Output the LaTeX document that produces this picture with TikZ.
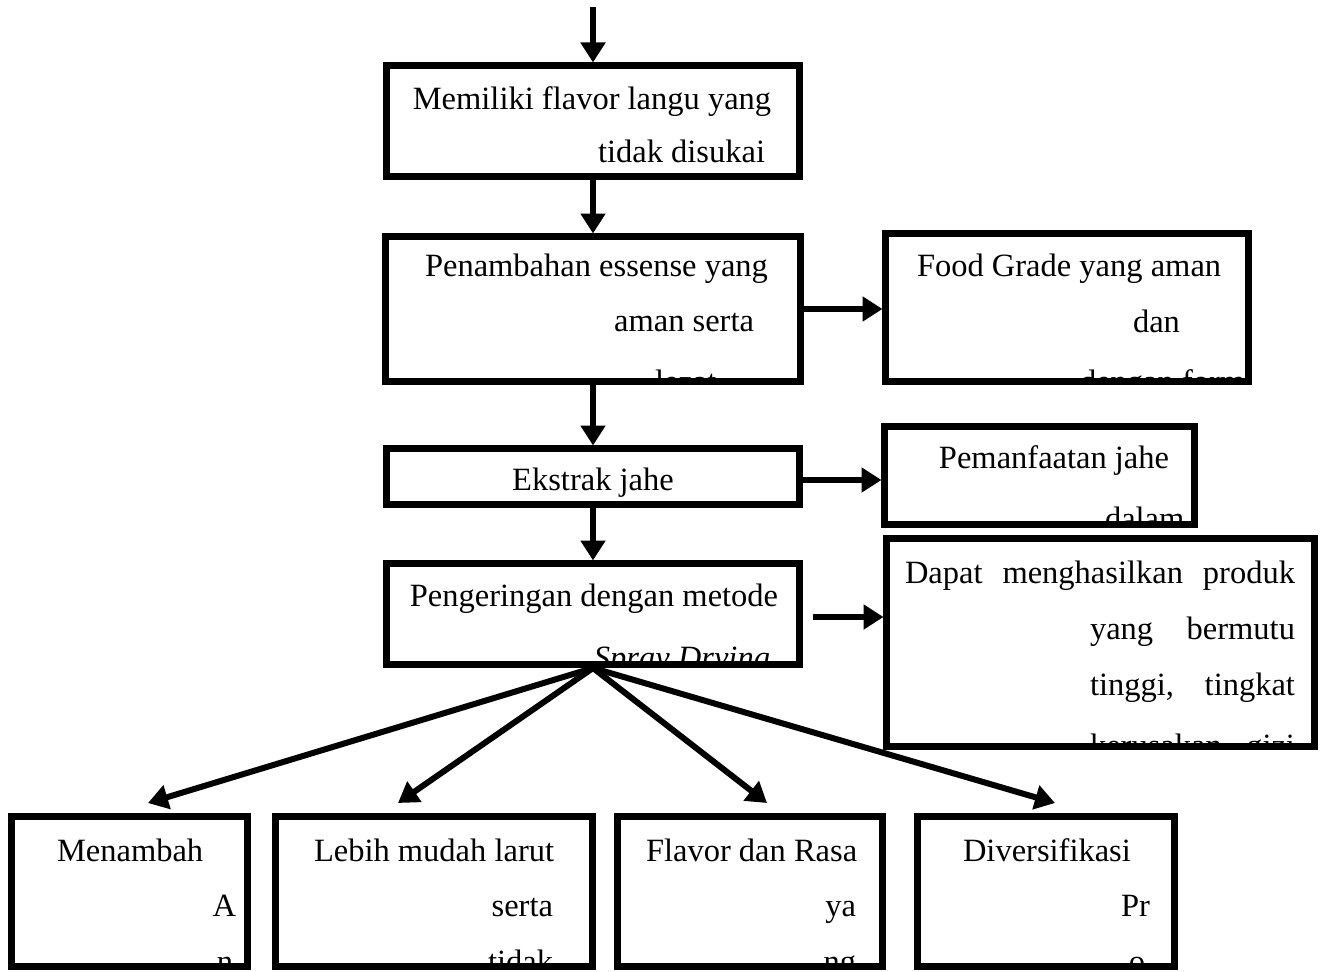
\documentclass[tikz,border=0pt]{standalone}
\usepackage{fontspec}
\setmainfont{Liberation Serif}
\usetikzlibrary{arrows.meta}
\tikzset{
  box/.style={draw=black, line width=7pt, inner sep=0pt, outer sep=0pt, rectangle},
  txt/.style={inner sep=0pt, outer sep=0pt, font=\fontsize{32.5}{39}\selectfont},
  arr/.style={line width=6pt, -{Triangle[length=20pt,width=24pt]}},
}
\newcommand{\clipbox}[1]{\clip ([shift={(3.5pt,-3.5pt)}]#1.north west) rectangle ([shift={(-3.5pt,3.5pt)}]#1.south east);}
\begin{document}
\begin{tikzpicture}[x=1pt,y=-1pt]
\useasboundingbox (0,0) rectangle (1329,971);
% boxes
\node[box, minimum width=413pt, minimum height=111pt] (b1) at (593,121) {};
\node[box, minimum width=415pt, minimum height=145pt] (b2) at (593,309) {};
\node[box, minimum width=363pt, minimum height=148pt] (food) at (1067,307.5) {};
\node[box, minimum width=413pt, minimum height=56pt] (b3) at (593,476.5) {};
\node[box, minimum width=310pt, minimum height=98pt] (pem) at (1039.5,475.5) {};
\node[box, minimum width=413pt, minimum height=101pt] (b4) at (593,614) {};
\node[box, minimum width=428pt, minimum height=208pt] (dapat) at (1100.5,642.5) {};
\node[box, minimum width=236pt, minimum height=150pt] (bA) at (129.5,891.5) {};
\node[box, minimum width=317pt, minimum height=150pt] (bB) at (434,891.5) {};
\node[box, minimum width=265pt, minimum height=150pt] (bC) at (750,891.5) {};
\node[box, minimum width=257pt, minimum height=150pt] (bD) at (1046,891.5) {};
% texts
\begin{scope}\clipbox{b1}
\node[txt, anchor=base] (t1a) at (592,110) {Memiliki flavor langu yang};
\node[txt, anchor=base east] (t1b) at (765,162) {tidak disukai};
\end{scope}
\begin{scope}\clipbox{b2}
\node[txt, anchor=base west] (t2a) at (425,276) {Penambahan essense yang};
\node[txt, anchor=base east] (t2b) at (754,331) {aman serta};
\node[txt, anchor=base west] (t2c) at (655,392) {lezat};
\end{scope}
\begin{scope}\clipbox{food}
\node[txt, anchor=base west] (f1) at (917,276) {Food Grade yang aman};
\node[txt, anchor=base west] (f2) at (1133,332) {dan};
\node[txt, anchor=base west] (f3) at (1080,392) {dengan formula};
\end{scope}
\begin{scope}\clipbox{b3}
\node[txt, anchor=base] (t3) at (593,490) {Ekstrak jahe};
\end{scope}
\begin{scope}\clipbox{pem}
\node[txt, anchor=base] (p1) at (1054,468) {Pemanfaatan jahe};
\node[txt, anchor=base west] (p2) at (1105,529) {dalam};
\end{scope}
\begin{scope}\clipbox{b4}
\node[txt, anchor=base] (t4a) at (594,606) {Pengeringan dengan metode};
\node[txt, anchor=base east] (t4b) at (770,668) {\itshape Spray Drying};
\end{scope}
\begin{scope}\clipbox{dapat}
\node[txt, anchor=base west] (d1) at (905,583) {\hbox to 390pt{Dapat\hfill menghasilkan\hfill produk}};
\node[txt, anchor=base east] (d2) at (1295,639) {\hbox to 205pt{yang\hfill bermutu}};
\node[txt, anchor=base east] (d3) at (1295,695) {\hbox to 205pt{tinggi,\hfill tingkat}};
\node[txt, anchor=base east] (d4) at (1295,756) {\hbox to 205pt{kerusakan\hfill gizi}};
\end{scope}
\begin{scope}\clipbox{bA}
\node[txt, anchor=base west] (a1) at (57,861) {Menambah};
\node[txt, anchor=base east] (a2) at (236,916) {A};
\node[txt, anchor=base east] (a3) at (233,972) {n};
\end{scope}
\begin{scope}\clipbox{bB}
\node[txt, anchor=base west] (l1) at (314,861) {Lebih mudah larut};
\node[txt, anchor=base east] (l2) at (553,916) {serta};
\node[txt, anchor=base east] (l3) at (553,972) {tidak};
\end{scope}
\begin{scope}\clipbox{bC}
\node[txt, anchor=base west] (c1) at (646,861) {Flavor dan Rasa};
\node[txt, anchor=base east] (c2) at (856,916) {ya};
\node[txt, anchor=base east] (c3) at (856,972) {ng};
\end{scope}
\begin{scope}\clipbox{bD}
\node[txt, anchor=base west] (v1) at (963,861) {Diversifikasi};
\node[txt, anchor=base east] (v2) at (1150,916) {Pr};
\node[txt, anchor=base east] (v3) at (1145,972) {o};
\end{scope}
% connectors
\coordinate (top) at (593,7);
\coordinate (tipA) at (148,803);
\coordinate (tipB) at (398,803);
\coordinate (tipC) at (767,803);
\coordinate (tipD) at (1055,803);
\draw[arr] (top) -- ([yshift=3pt]b1.north);
\draw[arr] ([yshift=-3.5pt]b1.south) -- ([yshift=3pt]b2.north);
\draw[arr] ([yshift=-3.5pt]b2.south) -- ([yshift=3pt]b3.north);
\draw[arr] ([yshift=-3.5pt]b3.south) -- ([yshift=3pt]b4.north);
\draw[arr] ([xshift=3.5pt]b2.east) -- ([xshift=-3pt]b2.east -| food.west);
\draw[arr] ([xshift=3.5pt,yshift=-3.5pt]b3.east) -- ([xshift=-3pt,yshift=-3.5pt]b3.east -| pem.west);
\draw[arr] ([xshift=13pt,yshift=-3pt]b4.east) -- ([xshift=-3pt,yshift=-3pt]b4.east -| dapat.west);
\draw[arr] ([yshift=-3.5pt]b4.south) -- (tipA);
\draw[arr] ([yshift=-3.5pt]b4.south) -- (tipB);
\draw[arr] ([yshift=-3.5pt]b4.south) -- (tipC);
\draw[arr] ([yshift=-3.5pt]b4.south) -- (tipD);
\end{tikzpicture}
\end{document}
